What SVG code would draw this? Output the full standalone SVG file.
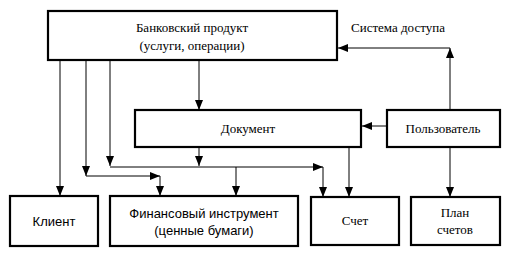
<svg xmlns="http://www.w3.org/2000/svg" width="508" height="257" viewBox="0 0 508 257">
<style>
.box{fill:#fff;stroke:#000;stroke-width:2.2}
.t{font-family:"Liberation Serif","Times New Roman",serif;font-size:13px;fill:#000;text-anchor:middle}
.s{font-family:"Liberation Sans",Arial,sans-serif;font-size:13px;fill:#000;text-anchor:middle}
.c{fill:none;stroke:#000;stroke-width:1}
</style>
<defs>
<marker id="a" viewBox="0 0 10 8" refX="10" refY="4" markerWidth="10" markerHeight="8" markerUnits="userSpaceOnUse" orient="auto">
<path d="M0,0 L10,4 L0,8 Z" fill="#000"/>
</marker>
</defs>
<rect width="508" height="257" fill="#fff"/>
<g id="connectors">
<path class="c" d="M60,60 V196" marker-end="url(#a)"/>
<path class="c" d="M86,60 V176" marker-end="url(#a)"/>
<path class="c" d="M86,176 H160" marker-end="url(#a)"/>
<path class="c" d="M160,176 V196" marker-end="url(#a)"/>
<path class="c" d="M110,60 V166" marker-end="url(#a)"/>
<path class="c" d="M110,167 H323" marker-end="url(#a)"/>
<path class="c" d="M323,167 V197" marker-end="url(#a)"/>
<path class="c" d="M236,167 V196" marker-end="url(#a)"/>
<path class="c" d="M199,60 V110" marker-end="url(#a)"/>
<path class="c" d="M199,147 V166" marker-end="url(#a)"/>
<path class="c" d="M349,147 V197" marker-end="url(#a)"/>
<path class="c" d="M387,126 H362" marker-end="url(#a)"/>
<path class="c" d="M450,110 V48" marker-end="url(#a)"/>
<path class="c" d="M450,48 H338" marker-end="url(#a)"/>
<path class="c" d="M450,147 V197" marker-end="url(#a)"/>
<text class="t" x="351" y="32" text-anchor="start" style="text-anchor:start">Система доступа</text>
</g>
<g id="product">
<rect class="box" x="48" y="11" width="289" height="49"/>
<text class="t" x="192" y="32">Банковский продукт</text>
<text class="t" x="192" y="50">(услуги, операции)</text>
</g>
<g id="document">
<rect class="box" x="135" y="110" width="226" height="37"/>
<text class="t" x="248" y="133">Документ</text>
</g>
<g id="user">
<rect class="box" x="387" y="110" width="113" height="37"/>
<text class="t" x="443" y="133">Пользователь</text>
</g>
<g id="client">
<rect class="box" x="10" y="196" width="88" height="50"/>
<text class="s" x="54" y="226">Клиент</text>
</g>
<g id="instrument">
<rect class="box" x="110" y="196" width="188" height="50"/>
<text class="s" x="204" y="218">Финансовый инструмент</text>
<text class="s" x="204" y="235">(ценные бумаги)</text>
</g>
<g id="account">
<rect class="box" x="311" y="197" width="88" height="48"/>
<text class="t" x="355" y="225">Счет</text>
</g>
<g id="plan">
<rect class="box" x="411" y="197" width="89" height="48"/>
<text class="t" x="455" y="217">План</text>
<text class="t" x="455" y="234">счетов</text>
</g>
</svg>
